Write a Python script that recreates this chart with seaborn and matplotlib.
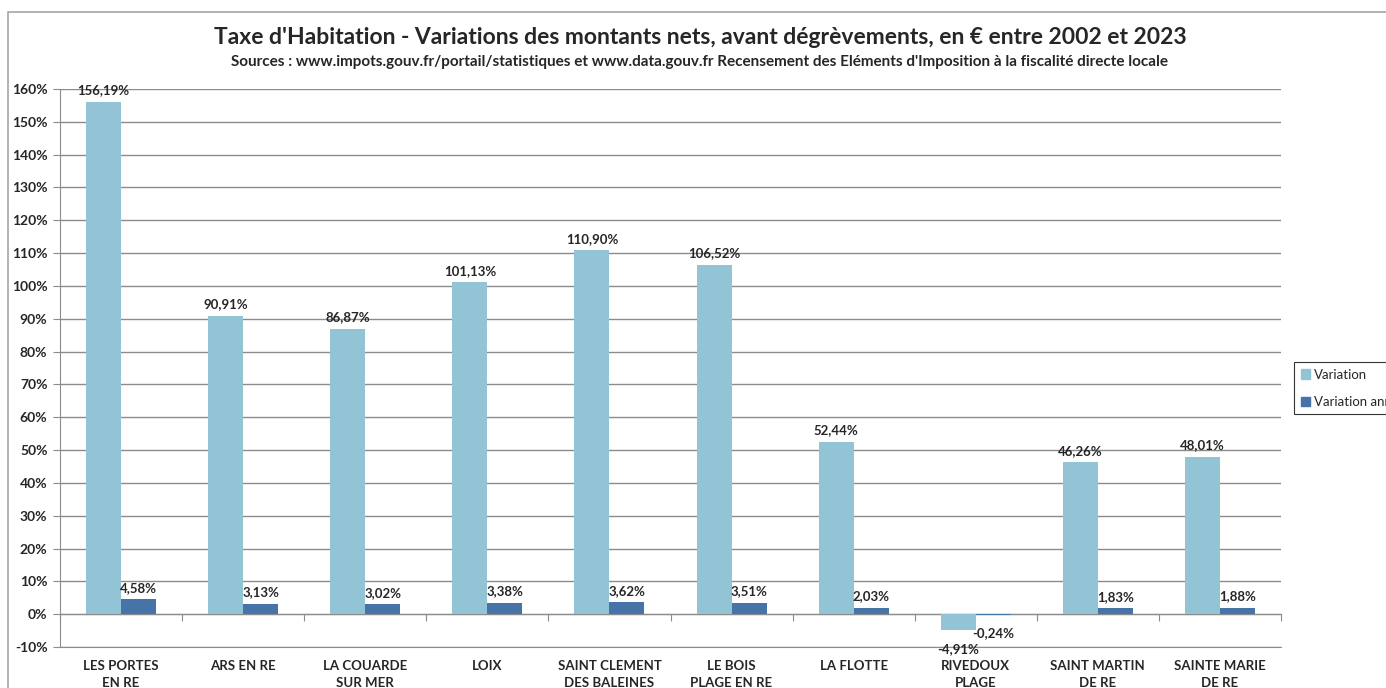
import matplotlib
matplotlib.use("Agg")
import matplotlib.pyplot as plt
import matplotlib.patches as mpatches
import seaborn as sns
import pandas as pd
import numpy as np

communes = ["LES PORTES\nEN RE", "ARS EN RE", "LA COUARDE\nSUR MER", "LOIX",
            "SAINT CLEMENT\nDES BALEINES", "LE BOIS\nPLAGE EN RE", "LA FLOTTE",
            "RIVEDOUX\nPLAGE", "SAINT MARTIN\nDE RE", "SAINTE MARIE\nDE RE"]
variation = [156.19, 90.91, 86.87, 101.13, 110.90, 106.52, 52.44, -4.91, 46.26, 48.01]
variation_an = [4.58, 3.13, 3.02, 3.38, 3.62, 3.51, 2.03, -0.24, 1.83, 1.88]
series_names = ["Variation", "Variation annuelle moyenne"]
y_ticks = list(range(-10, 161, 10))

title = "Taxe d'Habitation - Variations des montants nets, avant dégrèvements, en € entre 2002 et 2023"
subtitle = ("Sources : www.impots.gouv.fr/portail/statistiques et www.data.gouv.fr "
            "Recensement des Eléments d'Imposition à la fiscalité directe locale")

df = pd.DataFrame({
    "commune": communes * 2,
    "valeur": variation + variation_an,
    "serie": [series_names[0]] * len(communes) + [series_names[1]] * len(communes),
})

sns.set_style("white")
plt.rcParams["font.family"] = ["Lato", "DejaVu Sans"]

fig = plt.figure(figsize=(13.86, 6.88), dpi=100)
ax = fig.add_axes([60 / 1386, 1 - 647 / 688, (1281 - 60) / 1386, (647 - 89) / 688])

palette = {series_names[0]: "#93C4D6", series_names[1]: "#4673A8"}
sns.barplot(data=df, x="commune", y="valeur", hue="serie", order=communes,
            hue_order=series_names, palette=palette, width=0.574, gap=0,
            saturation=1, ax=ax, legend=False, errorbar=None, linewidth=0)

ax.set_ylim(-10, 160)
ax.set_xlim(-0.5, len(communes) - 0.5)
ax.set_yticks(y_ticks)
ax.set_yticklabels([f"{t}%" for t in y_ticks], fontweight="bold", fontsize=10)
ax.yaxis.grid(True, color="#8C8C8C", linewidth=1)
ax.set_axisbelow(True)
ax.tick_params(axis="y", length=5, color="#8C8C8C", pad=4, left=True)
ax.set_xlabel("")
ax.set_ylabel("")
ax.set_xticks(range(len(communes)))
ax.set_xticklabels(communes, fontweight="bold", fontsize=9.5, linespacing=1.55)
ax.tick_params(axis="x", length=0, pad=9)
for s in ["top", "right"]:
    ax.spines[s].set_visible(False)
ax.spines["left"].set_color("#8C8C8C")
ax.spines["bottom"].set_color("#8C8C8C")

# zero line with category separator ticks
sec = ax.secondary_xaxis(10 / 170)
sec.set_xticks(np.arange(-0.5, len(communes), 1.0))
sec.set_xticklabels([""] * (len(communes) + 1))
sec.tick_params(axis="x", length=5, color="#8C8C8C", direction="out")
sec.spines["bottom"].set_color("#8C8C8C")

for cont in ax.containers:
    vals = cont.datavalues
    pos_labels = [f"{v:.2f}%".replace(".", ",") if v >= 0 else "" for v in vals]
    neg_labels = [f"{v:.2f}%".replace(".", ",") if v < 0 else "" for v in vals]
    ax.bar_label(cont, labels=pos_labels, padding=4, fontsize=9.5, fontweight="bold")
    ax.bar_label(cont, labels=neg_labels, padding=9, fontsize=9.5, fontweight="bold")

fig.text(0.505, 1 - 38 / 688, title, ha="center", va="center", fontsize=16.5, fontweight="bold")
fig.text(0.505, 1 - 62 / 688, subtitle, ha="center", va="center", fontsize=11, fontweight="bold")

handles = [mpatches.Patch(color=palette[n], label=n) for n in series_names]
leg = fig.legend(handles=handles, loc="upper left",
                 bbox_to_anchor=(1294 / 1386, 1 - 362 / 688), fontsize=9.5,
                 frameon=True, fancybox=False, handlelength=0.7, handleheight=0.7,
                 handletextpad=0.3, labelspacing=1.15, borderpad=0.5,
                 borderaxespad=0)
leg.get_frame().set_edgecolor("black")
leg.get_frame().set_linewidth(0.8)

border = mpatches.Rectangle((8 / 1386, -0.05), 1.2, 1 - 12 / 688 + 0.05,
                            transform=fig.transFigure, fill=False,
                            edgecolor="#A6A6A6", linewidth=1.2)
fig.add_artist(border)

fig.savefig("out.png", dpi=100)
